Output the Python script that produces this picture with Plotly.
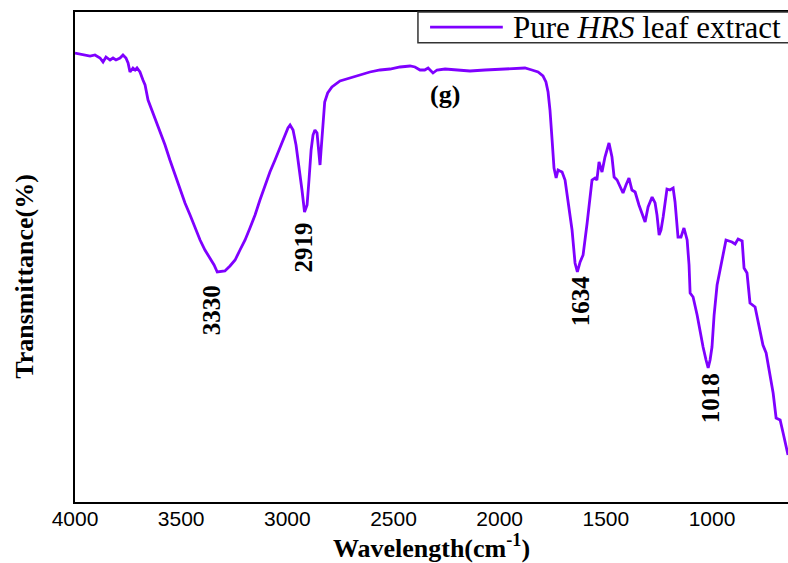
import plotly.graph_objects as go

# FTIR spectrum of the pure HRS leaf extract
series_name = "Pure <i>HRS</i> leaf extract"

wavenumber = [
    4000, 3976, 3953, 3929, 3906, 3882, 3868, 3854, 3835, 3821, 3807, 3788,
    3774, 3760, 3750, 3741, 3727, 3717, 3708, 3694, 3680, 3670, 3656, 3647,
    3633, 3618, 3600, 3576, 3553, 3529, 3505, 3482, 3458, 3435, 3411, 3388,
    3364, 3345, 3330, 3312, 3294, 3270, 3246, 3223, 3199, 3176, 3152, 3129,
    3105, 3082, 3058, 3034, 3011, 2997, 2987, 2973, 2959, 2945, 2931, 2919,
    2907, 2898, 2888, 2879, 2870, 2860, 2851, 2846, 2841, 2832, 2824, 2810,
    2790, 2752, 2705, 2658, 2611, 2563, 2516, 2469, 2422, 2399, 2375, 2353,
    2337, 2314, 2295, 2257, 2210, 2140, 2069, 1998, 1928, 1881, 1848, 1819,
    1796, 1782, 1772, 1763, 1753, 1744, 1734, 1725, 1716, 1706, 1692, 1678,
    1659, 1645, 1634, 1621, 1607, 1588, 1574, 1565, 1551, 1542, 1532, 1518,
    1504, 1494, 1485, 1471, 1461, 1447, 1433, 1419, 1405, 1391, 1377, 1362,
    1344, 1329, 1315, 1301, 1282, 1268, 1259, 1249, 1240, 1230, 1221, 1212,
    1198, 1183, 1174, 1160, 1146, 1132, 1117, 1108, 1103, 1089, 1070, 1056,
    1042, 1028, 1018, 1009, 1000, 990, 976, 962, 948, 934, 920, 906,
    891, 877, 858, 849, 835, 821, 797, 774, 760, 745, 727, 712,
    698, 679, 665, 651, 642,
]

transmittance = [
    89.8, 89.6, 89.4, 89.2, 89.4, 88.8, 88.0, 89.0, 88.4, 88.8, 88.4, 88.8,
    89.4, 88.8, 87.8, 86.0, 86.8, 86.4, 86.8, 86.0, 84.4, 83.4, 80.4, 79.4,
    78.0, 76.4, 74.4, 71.4, 68.4, 65.4, 62.4, 59.8, 57.4, 54.8, 52.4, 50.4,
    48.8, 47.4, 46.0, 46.1, 46.2, 47.2, 48.4, 50.4, 52.4, 54.8, 57.4, 60.4,
    63.4, 66.0, 68.4, 70.8, 73.4, 74.8, 75.4, 74.4, 71.4, 67.4, 62.4, 58.0,
    59.4, 64.4, 70.4, 73.4, 74.4, 73.8, 70.4, 67.4, 70.4, 76.4, 80.0, 81.8,
    83.0, 84.2, 84.8, 85.4, 86.0, 86.4, 86.6, 87.0, 87.2, 87.0, 86.4, 86.4,
    86.8, 85.8, 86.4, 86.6, 86.4, 86.2, 86.4, 86.6, 86.8, 86.8, 86.4, 86.0,
    85.2, 84.0, 82.0, 78.4, 72.4, 66.8, 64.8, 66.4, 66.2, 66.0, 64.4, 60.4,
    54.4, 47.8, 46.0, 48.0, 49.4, 55.8, 61.4, 64.4, 64.8, 64.4, 68.0, 66.0,
    69.0, 70.8, 71.8, 69.0, 65.0, 64.4, 63.0, 61.8, 63.4, 64.8, 62.4, 62.0,
    59.4, 57.4, 56.0, 59.0, 61.0, 59.8, 57.4, 53.4, 54.4, 57.0, 60.4, 62.6,
    62.4, 62.8, 60.0, 53.0, 53.0, 54.8, 52.4, 47.4, 41.8, 41.0, 37.4, 33.8,
    31.0, 28.4, 26.8, 28.4, 31.0, 37.4, 43.4, 46.4, 49.8, 52.4, 52.2, 52.0,
    51.6, 52.6, 52.2, 46.8, 45.8, 39.8, 39.0, 33.8, 31.4, 29.8, 25.8, 21.8,
    16.8, 16.4, 13.8, 11.0, 9.4,
]

# Labelled absorption bands: wavenumber and label placement (transmittance)
band_positions = [3330, 2919, 1634, 1018]
band_label_y = [38.4, 50.8, 40.2, 20.8]
band_label_shift = [-6, -2, 3, 2]

panel_label = "(g)"
x_range = [4000, 642]
y_range = [0, 98]

line_color = "#7F00FF"
serif = "Liberation Serif, Times New Roman, serif"
sans = "Liberation Sans, Arial, sans-serif"

fig = go.Figure()
fig.add_trace(go.Scatter(
    x=wavenumber, y=transmittance, mode="lines", name=series_name,
    line=dict(color=line_color, width=2.8), showlegend=False,
))

for wn, ty, dx in zip(band_positions, band_label_y, band_label_shift):
    fig.add_annotation(
        x=wn, y=ty, text=str(wn), showarrow=False, textangle=-90,
        xshift=dx, font=dict(family=serif, size=25, color="black", weight="bold"),
    )

fig.add_annotation(
    x=2257, y=81.6, text=panel_label, showarrow=False,
    font=dict(family=serif, size=26, color="black", weight="bold"),
)

# Vertical axis title, set slightly below the plot's mid-height
fig.add_annotation(
    xref="paper", yref="paper", x=-0.07, y=0.46, text="Transmittance(%)",
    textangle=-90, showarrow=False, xanchor="center", yanchor="middle",
    font=dict(family=serif, size=26, color="black", weight="bold"),
)

# Legend box drawn in paper coordinates
fig.add_shape(type="rect", xref="paper", yref="paper", x0=0.481, x1=1.02,
              y0=0.937, y1=1.0, line=dict(color="#333333", width=1.5),
              fillcolor="white", layer="above")
fig.add_shape(type="line", xref="paper", yref="paper", x0=0.498, x1=0.600,
              y0=0.969, y1=0.969, line=dict(color=line_color, width=2.8),
              layer="above")
fig.add_annotation(xref="paper", yref="paper", x=0.611, y=0.969,
                   xanchor="left", yanchor="middle", text=series_name,
                   showarrow=False,
                   font=dict(family=serif, size=31, color="black"))

fig.update_layout(
    width=788, height=563,
    margin=dict(l=75, r=0, t=12, b=61),
    paper_bgcolor="white", plot_bgcolor="white",
    xaxis=dict(
        range=x_range, tick0=0, dtick=500, ticks="",
        showgrid=False, zeroline=False,
        showline=True, linecolor="black", linewidth=2, mirror=True,
        ticklabelstandoff=-3,
        tickfont=dict(family=sans, size=21, color="black"),
        title=dict(text="Wavelength(cm<sup>-1</sup>)", standoff=9,
                   font=dict(family=serif, size=26, color="black", weight="bold")),
    ),
    yaxis=dict(
        range=y_range, showticklabels=False, ticks="",
        showgrid=False, zeroline=False,
        showline=True, linecolor="black", linewidth=2,
    ),
)

fig.write_html("out.html")
